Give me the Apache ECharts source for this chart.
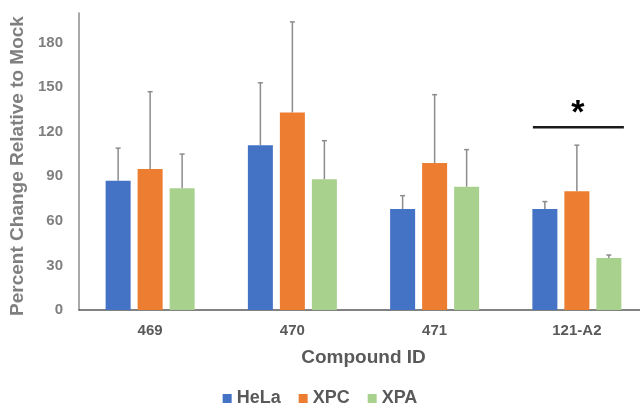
<!DOCTYPE html>
<html>
<head>
<meta charset="utf-8">
<script src="https://cdn.jsdelivr.net/npm/echarts@6/dist/echarts.min.js"></script>
<style>
  html, body { margin: 0; padding: 0; background: #fff; }
  #chart { width: 640px; height: 411px; }
</style>
</head>
<body>
<div id="chart"></div>
<script>
// data
const compounds = ['469', '470', '471', '121-A2'];
const seriesNames = ['HeLa', 'XPC', 'XPA'];
const helaValues = [87, 111, 68, 68];
const xpcValues = [95, 133, 99, 80];
const xpaValues = [82, 88, 83, 35];
// top of each error bar
const helaErrTop = [109, 153, 77, 73];
const xpcErrTop = [147, 194, 145, 111];
const xpaErrTop = [105, 114, 108, 37];
const yTicks = [0, 30, 60, 90, 120, 150, 180];
// significance bracket over 121-A2
const sigCategory = 3;
const sigLevel = 123;
const sigMark = '*';

const colors = ['#4472C4', '#ED7D31', '#A9D18E'];
const barW = 25;
const barGapPx = 7;
const fontFam = 'Liberation Sans, Arial, sans-serif';

var dom = document.getElementById('chart');
var myChart = echarts.init(dom, null, { renderer: 'canvas' });

function errorSeries(idx, tops, values) {
    const offset = (idx - 1) * (barW + barGapPx);
    return {
        type: 'custom',
        name: seriesNames[idx] + ' err',
        silent: true,
        z: 1,
        data: compounds.map((c, i) => [i, values[i], tops[i]]),
        renderItem: function (params, api) {
            const base = api.coord([api.value(0), api.value(1)]);
            const top = api.coord([api.value(0), api.value(2)]);
            const x = base[0] + offset;
            return {
                type: 'group',
                children: [
                    { type: 'line', shape: { x1: x, y1: base[1], x2: x, y2: top[1] },
                      style: { stroke: '#8c8c8c', lineWidth: 1.5 } },
                    { type: 'line', shape: { x1: x - 2.5, y1: top[1], x2: x + 2.5, y2: top[1] },
                      style: { stroke: '#8c8c8c', lineWidth: 1.5 } }
                ]
            };
        }
    };
}

const option = {
    animation: false,
    textStyle: { fontFamily: fontFam },
    grid: { left: 79, right: -8, top: 13, bottom: 101, outerBoundsMode: 'none' },
    legend: {
        data: seriesNames,
        top: 384,
        left: 'center',
        itemWidth: 9,
        itemHeight: 9,
        itemGap: 18,
        icon: 'rect',
        textStyle: { color: '#595959', fontSize: 18, fontWeight: 'bold', lineHeight: 19 }
    },
    xAxis: {
        type: 'category',
        data: compounds,
        name: 'Compound ID',
        nameLocation: 'middle',
        nameGap: 38,
        nameTextStyle: { color: '#595959', fontSize: 19, fontWeight: 'bold' },
        axisLine: { lineStyle: { color: '#595959', width: 1.5 } },
        axisTick: { show: false },
        axisLabel: { color: '#595959', fontSize: 15, fontWeight: 'bold', margin: 13 }
    },
    yAxis: {
        type: 'value',
        min: 0,
        max: 200,
        interval: 30,
        name: 'Percent Change Relative to Mock',
        nameLocation: 'middle',
        nameGap: 51,
        nameTextStyle: { color: '#7f7f7f', fontSize: 19, fontWeight: 'bold', padding: [0, 9, 0, 0] },
        axisLine: { show: true, lineStyle: { color: '#8c8c8c', width: 1.5 } },
        axisTick: { show: false },
        splitLine: { show: false },
        axisLabel: {
            color: '#7f7f7f', fontSize: 15, fontWeight: 'bold', margin: 16,
            showMaxLabel: false,
            formatter: v => yTicks.indexOf(v) >= 0 ? String(v) : ''
        }
    },
    series: [
        { name: seriesNames[0], type: 'bar', data: helaValues, barWidth: barW, barGap: (barGapPx / barW * 100) + '%',
          itemStyle: { color: colors[0] }, z: 2 },
        { name: seriesNames[1], type: 'bar', data: xpcValues, barWidth: barW, barGap: (barGapPx / barW * 100) + '%',
          itemStyle: { color: colors[1] }, z: 2 },
        { name: seriesNames[2], type: 'bar', data: xpaValues, barWidth: barW, barGap: (barGapPx / barW * 100) + '%',
          itemStyle: { color: colors[2] }, z: 2 },
        errorSeries(0, helaErrTop, helaValues),
        errorSeries(1, xpcErrTop, xpcValues),
        errorSeries(2, xpaErrTop, xpaValues),
        {
            type: 'custom',
            name: 'sig',
            silent: true,
            z: 5,
            data: [[sigCategory, sigLevel]],
            renderItem: function (params, api) {
                const p = api.coord([api.value(0), api.value(1)]);
                return {
                    type: 'group',
                    children: [
                        { type: 'line', shape: { x1: p[0] - 44, y1: p[1], x2: p[0] + 47, y2: p[1] },
                          style: { stroke: '#1a1a1a', lineWidth: 2.5 } },
                        { type: 'text', x: p[0] + 1, y: p[1] - 14,
                          style: { text: sigMark, fill: '#000', font: 'bold 34px ' + fontFam,
                                   align: 'center', verticalAlign: 'middle' } }
                    ]
                };
            }
        }
    ]
};

myChart.setOption(option);
window.addEventListener('resize', myChart.resize);
</script>
</body>
</html>
